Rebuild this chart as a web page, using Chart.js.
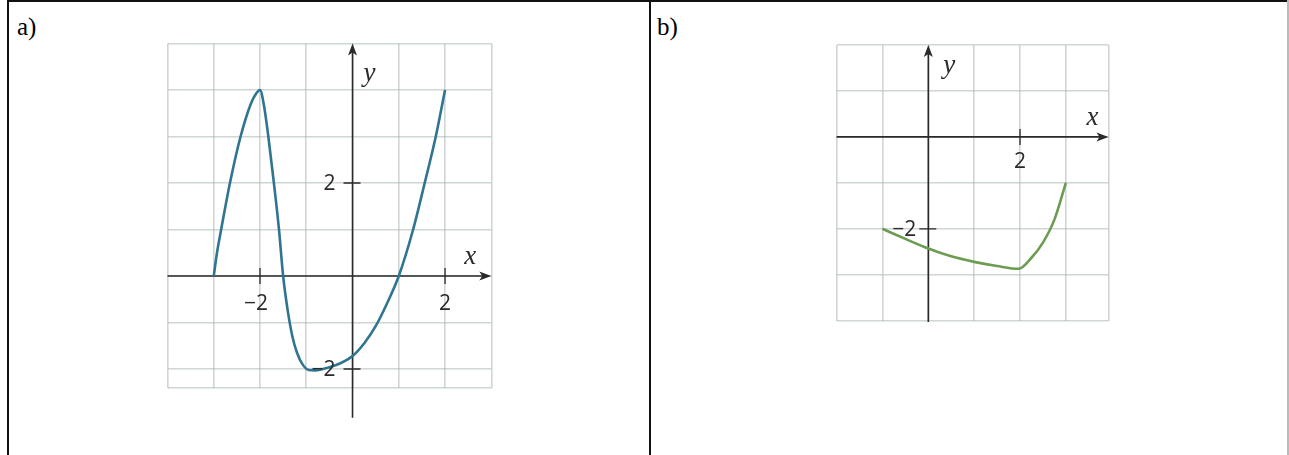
<!DOCTYPE html>
<html>
<head>
<meta charset="utf-8">
<script src="https://cdn.jsdelivr.net/npm/chart.js@4.4.0/dist/chart.umd.min.js"></script>
<style>
  body { margin: 0; width: 1289px; height: 455px; background: #fff; position: relative; overflow: hidden; }
  .rule { position: absolute; background: #111; }
  .tag { position: absolute; font: 25px 'Liberation Serif', 'Times New Roman', serif; color: #000; }
  canvas { position: absolute; }
</style>
</head>
<body>
<!-- table frame -->
<div class="rule" style="left:8px;top:0;width:1281px;height:1.5px"></div>
<div class="rule" style="left:7px;top:0;width:1.5px;height:455px"></div>
<div class="rule" style="left:649px;top:0;width:1.5px;height:455px"></div>
<div class="rule" style="left:1287px;top:0;width:1.5px;height:455px;background:#bbb"></div>
<div class="tag" style="left:17px;top:13px">a)</div>
<div class="tag" style="left:657px;top:13px">b)</div>

<canvas id="graphA" width="460" height="420" style="left:100px;top:20px"></canvas>
<canvas id="graphB" width="380" height="340" style="left:780px;top:20px"></canvas>

<script>
'use strict'

// graph a)
let curveAX = [-3, -2.93, -2.84, -2.65, -2.42, -2.2, -2.08, -2, -1.92, -1.82, -1.7, -1.59, -1.5, -1.4, -1.3, -1.2, -1.08, -0.95, -0.8, -0.5, -0.25, 0, 0.25, 0.5, 0.75, 1, 1.31, 1.56, 1.8, 2]
let curveAY = [0, 0.5, 1, 2, 3, 3.7, 3.93, 4, 3.7, 3, 2, 1, 0, -0.75, -1.3, -1.65, -1.9, -2.02, -2.03, -1.96, -1.87, -1.72, -1.45, -1.08, -0.58, 0, 1, 2, 3, 4]

// graph b)
let curveBX = [-1, -0.5, 0, 0.5, 1, 1.5, 1.97, 2.25, 2.5, 2.75, 3]
let curveBY = [-2, -2.22, -2.43, -2.6, -2.72, -2.81, -2.87, -2.63, -2.3, -1.8, -1]

// labelled ticks on the axes
let ticksAX = [-2, 2]
let ticksAY = [2, -2]
let ticksBX = [2]
let ticksBY = [-2]

const gridColor = 'rgba(170,178,180,0.55)'
const axisColor = '#2a2a2a'

function toPoints(xs, ys) {
    return xs.map((x, i) => ({x: x, y: ys[i]}))
}

function label(v) {
    return v < 0 ? '\u2212' + Math.abs(v) : String(v)
}

function arrowHead(ctx, x, y, dir) {
    ctx.beginPath()
    if (dir === 'right') {
        ctx.moveTo(x, y)
        ctx.lineTo(x - 12, y - 4.5)
        ctx.lineTo(x - 9, y)
        ctx.lineTo(x - 12, y + 4.5)
    } else {
        ctx.moveTo(x, y)
        ctx.lineTo(x - 4.5, y + 12)
        ctx.lineTo(x, y + 9)
        ctx.lineTo(x + 4.5, y + 12)
    }
    ctx.closePath()
    ctx.fill()
}

// axes with arrows, tick marks and their labels
const axesPlugin = {
    id: 'axes',
    beforeDatasetsDraw(chart, args, opts) {
        const ctx = chart.ctx
        const sx = chart.scales.x, sy = chart.scales.y
        const x0 = sx.getPixelForValue(0), y0 = sy.getPixelForValue(0)
        const xa = sx.getPixelForValue(opts.xFrom), xb = sx.getPixelForValue(opts.xTo)
        const ya = sy.getPixelForValue(opts.yFrom), yb = sy.getPixelForValue(opts.yTo)
        ctx.save()
        ctx.strokeStyle = axisColor
        ctx.fillStyle = axisColor
        ctx.lineWidth = 1.6
        ctx.beginPath()
        ctx.moveTo(xa, y0); ctx.lineTo(xb - 6, y0)
        ctx.moveTo(x0, ya); ctx.lineTo(x0, yb + 6)
        ctx.stroke()
        arrowHead(ctx, xb, y0, 'right')
        arrowHead(ctx, x0, yb, 'up')

        // tick marks
        ctx.lineWidth = 1.3
        ctx.beginPath()
        opts.xTicks.forEach(v => {
            const p = sx.getPixelForValue(v)
            ctx.moveTo(p, y0 - 8); ctx.lineTo(p, y0 + 8)
        })
        opts.yTicks.forEach(v => {
            const p = sy.getPixelForValue(v)
            ctx.moveTo(x0 - 9, p); ctx.lineTo(x0 + 8, p)
        })
        ctx.stroke()
        ctx.restore()
    },
    afterDatasetsDraw(chart, args, opts) {
        const ctx = chart.ctx
        const sx = chart.scales.x, sy = chart.scales.y
        const x0 = sx.getPixelForValue(0), y0 = sy.getPixelForValue(0)
        const xb = sx.getPixelForValue(opts.xTo), yb = sy.getPixelForValue(opts.yTo)
        ctx.save()
        ctx.fillStyle = '#2a2a2a'
        ctx.font = '21px "Open Sans", sans-serif'
        ctx.textBaseline = 'middle'
        ctx.textAlign = 'center'
        opts.xTicks.forEach(v => {
            const w = v < 0 ? -4 : 0
            ctx.fillText(label(v), sx.getPixelForValue(v) + w, y0 + opts.xLabelGap)
        })
        ctx.textAlign = 'right'
        opts.yTicks.forEach(v => {
            ctx.fillText(label(v), x0 - opts.yLabelGap, sy.getPixelForValue(v) + 1)
        })

        // axis names
        ctx.font = 'italic 27px "Liberation Serif", serif'
        ctx.textAlign = 'center'
        ctx.fillText('y', x0 + opts.yName[0], yb + opts.yName[1])
        ctx.fillText('x', xb + opts.xName[0], y0 + opts.xName[1])
        ctx.restore()
    }
}

function scaleOpts(min, max) {
    return {
        type: 'linear',
        min: min,
        max: max,
        ticks: { display: false, stepSize: 1 },
        grid: { color: gridColor, lineWidth: 1.6, drawTicks: false },
        border: { display: false }
    }
}

function makeGraph(id, pts, color, range, padding, axes) {
    return new Chart(document.getElementById(id).getContext('2d'), {
        type: 'scatter',
        data: {
            datasets: [{
                data: pts,
                showLine: true,
                borderColor: color,
                borderWidth: 2.6,
                pointRadius: 0,
                cubicInterpolationMode: 'monotone'
            }]
        },
        options: {
            responsive: false,
            animation: false,
            devicePixelRatio: 1,
            events: [],
            layout: { padding: padding },
            scales: {
                x: scaleOpts(range[0], range[1]),
                y: scaleOpts(range[2], range[3])
            },
            plugins: {
                legend: { display: false },
                tooltip: { enabled: false },
                axes: axes
            }
        },
        plugins: [axesPlugin]
    })
}

makeGraph('graphA', toPoints(curveAX, curveAY), '#2f7490',
    [-4, 3, -2.4, 5],
    { left: 67.5, right: 68.7, top: 23.5, bottom: 52.4 },
    { xFrom: -4, xTo: 3, yFrom: -3.05, yTo: 5,
      xTicks: ticksAX, yTicks: ticksAY, xLabelGap: 28, yLabelGap: 17,
      yName: [17, 30], xName: [-21, -19] })

makeGraph('graphB', toPoints(curveBX, curveBY), '#6c9c52',
    [-2, 3.93, -4, 2],
    { left: 56.6, right: 51.5, top: 25, bottom: 39.3 },
    { xFrom: -2, xTo: 3.93, yFrom: -4.03, yTo: 2,
      xTicks: ticksBX, yTicks: ticksBY, xLabelGap: 25, yLabelGap: 12,
      yName: [21, 21], xName: [-16, -19] })
</script>
</body>
</html>
